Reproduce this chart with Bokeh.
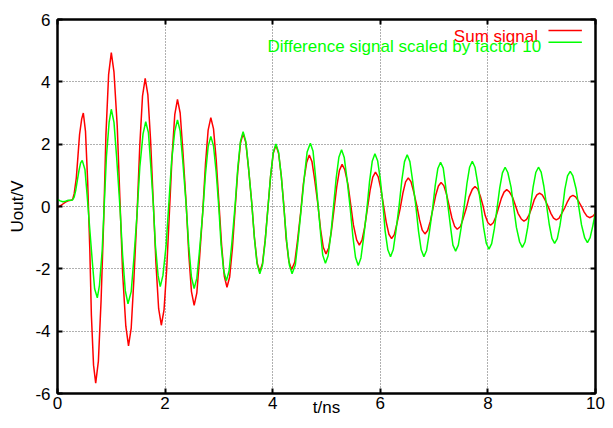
from bokeh.plotting import figure
from bokeh.models import LinearAxis, Label, Arrow, Range1d, FixedTicker
from bokeh.embed import file_html
from bokeh.resources import INLINE

# ---------------- data ----------------
x_ticks = [0, 2, 4, 6, 8, 10]
y_ticks = [-6, -4, -2, 0, 2, 4, 6]
y_tick_labels = {v: str(v) for v in y_ticks}

x_label = "t/ns"
y_label = "Uout/V"
series_names = ["Sum signal", "Difference signal scaled by factor 10"]

t_sum = [0.00, 0.05, 0.10, 0.15, 0.20, 0.25, 0.28,
         0.31, 0.35, 0.38, 0.41, 0.45, 0.48,
         0.52, 0.56, 0.60, 0.63, 0.67, 0.71,
         0.76, 0.81, 0.86, 0.90, 0.95, 1.00,
         1.05, 1.11, 1.16, 1.21, 1.27, 1.32,
         1.37, 1.42, 1.48, 1.53, 1.58, 1.63,
         1.68, 1.73, 1.78, 1.83, 1.88, 1.93,
         1.98, 2.03, 2.08, 2.13, 2.18, 2.23,
         2.28, 2.33, 2.39, 2.44, 2.49, 2.54,
         2.59, 2.64, 2.70, 2.75, 2.80, 2.85,
         2.90, 2.95, 3.00, 3.05, 3.10, 3.15,
         3.20, 3.25, 3.30, 3.35, 3.40, 3.45,
         3.50, 3.55, 3.61, 3.66, 3.71, 3.76,
         3.81, 3.86, 3.91, 3.96, 4.01, 4.06,
         4.11, 4.16, 4.21, 4.25, 4.30, 4.35,
         4.41, 4.46, 4.52, 4.57, 4.63, 4.68,
         4.73, 4.78, 4.84, 4.89, 4.94, 4.99,
         5.04, 5.09, 5.14, 5.19, 5.24, 5.29,
         5.34, 5.40, 5.45, 5.50, 5.56, 5.61,
         5.66, 5.71, 5.76, 5.81, 5.86, 5.91,
         5.96, 6.01, 6.06, 6.11, 6.16, 6.21,
         6.26, 6.31, 6.37, 6.42, 6.47, 6.52,
         6.57, 6.62, 6.68, 6.73, 6.78, 6.83,
         6.88, 6.93, 6.98, 7.03, 7.08, 7.13,
         7.18, 7.23, 7.28, 7.33, 7.38, 7.43,
         7.49, 7.54, 7.60, 7.65, 7.71, 7.76,
         7.81, 7.86, 7.91, 7.95, 8.00, 8.05,
         8.10, 8.15, 8.20, 8.25, 8.30, 8.35,
         8.40, 8.46, 8.51, 8.56, 8.62, 8.67,
         8.72, 8.77, 8.82, 8.86, 8.91, 8.96,
         9.01, 9.06, 9.12, 9.17, 9.22, 9.27,
         9.32, 9.37, 9.43, 9.48, 9.53, 9.58,
         9.63, 9.68, 9.74, 9.79, 9.84, 9.89,
         9.95, 10.00]

v_sum = [-0.03, 0.02, 0.08, 0.14, 0.18, 0.20, 0.22,
         0.41, 0.92, 1.61, 2.31, 2.81, 3.00,
         2.42, 0.83, -1.34, -3.50, -5.09, -5.67,
         -4.96, -3.02, -0.37, 2.29, 4.23, 4.94,
         4.31, 2.59, 0.24, -2.12, -3.84, -4.47,
         -3.90, -2.33, -0.18, 1.97, 3.54, 4.11,
         3.58, 2.13, 0.15, -1.83, -3.28, -3.81,
         -3.32, -2.00, -0.19, 1.63, 2.95, 3.44,
         3.00, 1.79, 0.14, -1.52, -2.73, -3.17,
         -2.77, -1.67, -0.16, 1.35, 2.45, 2.85,
         2.49, 1.49, 0.13, -1.23, -2.23, -2.59,
         -2.26, -1.36, -0.12, 1.12, 2.02, 2.35,
         2.05, 1.24, 0.13, -0.99, -1.80, -2.10,
         -1.83, -1.08, -0.07, 0.95, 1.70, 1.97,
         1.70, 0.97, -0.03, -1.03, -1.76, -2.03,
         -1.78, -1.11, -0.19, 0.73, 1.40, 1.65,
         1.44, 0.86, 0.07, -0.73, -1.31, -1.52,
         -1.33, -0.80, -0.09, 0.63, 1.16, 1.35,
         1.18, 0.70, 0.06, -0.59, -1.07, -1.24,
         -1.08, -0.66, -0.07, 0.52, 0.94, 1.10,
         0.96, 0.57, 0.04, -0.50, -0.89, -1.03,
         -0.90, -0.54, -0.06, 0.43, 0.79, 0.92,
         0.80, 0.47, 0.02, -0.43, -0.76, -0.88,
         -0.77, -0.47, -0.06, 0.36, 0.66, 0.77,
         0.67, 0.40, 0.02, -0.36, -0.63, -0.73,
         -0.64, -0.39, -0.05, 0.30, 0.55, 0.64,
         0.56, 0.33, 0.02, -0.29, -0.52, -0.60,
         -0.52, -0.32, -0.03, 0.26, 0.46, 0.54,
         0.47, 0.29, 0.04, -0.22, -0.40, -0.47,
         -0.41, -0.25, -0.02, 0.21, 0.37, 0.43,
         0.37, 0.22, 0.00, -0.22, -0.37, -0.43,
         -0.38, -0.23, -0.04, 0.16, 0.31, 0.36,
         0.31, 0.18, 0.00, -0.18, -0.31, -0.36,
         -0.31, -0.22]

t_diff = [0.00, 0.05, 0.10, 0.15, 0.20, 0.25, 0.28,
          0.31, 0.34, 0.37, 0.40, 0.43, 0.46,
          0.51, 0.55, 0.60, 0.65, 0.69, 0.74,
          0.78, 0.83, 0.87, 0.91, 0.96, 1.00,
          1.05, 1.10, 1.16, 1.21, 1.26, 1.31,
          1.37, 1.42, 1.48, 1.53, 1.59, 1.64,
          1.69, 1.73, 1.78, 1.82, 1.87, 1.91,
          1.96, 2.02, 2.07, 2.12, 2.18, 2.23,
          2.28, 2.33, 2.39, 2.44, 2.49, 2.54,
          2.59, 2.64, 2.70, 2.75, 2.80, 2.85,
          2.90, 2.95, 3.00, 3.04, 3.09, 3.14,
          3.19, 3.24, 3.30, 3.35, 3.40, 3.45,
          3.50, 3.55, 3.61, 3.66, 3.71, 3.76,
          3.81, 3.86, 3.91, 3.96, 4.01, 4.06,
          4.11, 4.16, 4.21, 4.26, 4.31, 4.36,
          4.42, 4.47, 4.53, 4.59, 4.64, 4.70,
          4.75, 4.79, 4.84, 4.89, 4.93, 4.98,
          5.03, 5.08, 5.13, 5.18, 5.23, 5.28,
          5.33, 5.38, 5.44, 5.49, 5.54, 5.59,
          5.64, 5.69, 5.75, 5.80, 5.85, 5.90,
          5.95, 6.00, 6.05, 6.09, 6.14, 6.19,
          6.24, 6.29, 6.35, 6.40, 6.45, 6.50,
          6.55, 6.60, 6.66, 6.71, 6.76, 6.81,
          6.86, 6.91, 6.97, 7.02, 7.07, 7.12,
          7.17, 7.21, 7.26, 7.31, 7.35, 7.40,
          7.45, 7.50, 7.56, 7.61, 7.66, 7.71,
          7.76, 7.81, 7.87, 7.92, 7.97, 8.02,
          8.07, 8.12, 8.17, 8.22, 8.27, 8.32,
          8.37, 8.43, 8.48, 8.53, 8.59, 8.64,
          8.69, 8.74, 8.79, 8.84, 8.89, 8.94,
          8.99, 9.04, 9.09, 9.14, 9.19, 9.24,
          9.29, 9.34, 9.39, 9.43, 9.48, 9.53,
          9.58, 9.64, 9.69, 9.74, 9.80, 9.85,
          9.90, 9.95, 10.00]

v_diff = [0.23, 0.18, 0.15, 0.17, 0.20, 0.20, 0.21,
          0.30, 0.53, 0.85, 1.16, 1.40, 1.48,
          1.19, 0.38, -0.73, -1.83, -2.64, -2.93,
          -2.53, -1.42, 0.10, 1.61, 2.71, 3.12,
          2.70, 1.56, 0.00, -1.56, -2.70, -3.12,
          -2.73, -1.66, -0.20, 1.26, 2.33, 2.72,
          2.37, 1.40, 0.08, -1.25, -2.22, -2.57,
          -2.21, -1.23, 0.11, 1.44, 2.42, 2.78,
          2.42, 1.43, 0.08, -1.28, -2.27, -2.63,
          -2.30, -1.41, -0.19, 1.03, 1.92, 2.25,
          1.94, 1.09, -0.07, -1.22, -2.07, -2.38,
          -2.06, -1.19, 0.01, 1.21, 2.08, 2.40,
          2.09, 1.26, 0.12, -1.02, -1.85, -2.16,
          -1.88, -1.12, -0.08, 0.97, 1.73, 2.01,
          1.73, 0.97, -0.08, -1.12, -1.88, -2.16,
          -1.88, -1.11, -0.07, 0.98, 1.75, 2.03,
          1.77, 1.07, 0.11, -0.86, -1.56, -1.82,
          -1.58, -0.91, 0.00, 0.91, 1.58, 1.82,
          1.57, 0.89, -0.04, -0.96, -1.64, -1.89,
          -1.65, -1.00, -0.10, 0.80, 1.45, 1.69,
          1.47, 0.87, 0.04, -0.79, -1.39, -1.61,
          -1.39, -0.79, 0.03, 0.84, 1.44, 1.66,
          1.44, 0.84, 0.03, -0.79, -1.39, -1.61,
          -1.41, -0.85, -0.10, 0.66, 1.22, 1.42,
          1.23, 0.71, -0.01, -0.72, -1.24, -1.43,
          -1.24, -0.71, 0.01, 0.73, 1.26, 1.45,
          1.26, 0.75, 0.04, -0.67, -1.18, -1.37,
          -1.19, -0.71, -0.06, 0.60, 1.08, 1.26,
          1.09, 0.62, -0.03, -0.67, -1.14, -1.31,
          -1.14, -0.67, -0.03, 0.62, 1.09, 1.26,
          1.10, 0.65, 0.04, -0.57, -1.02, -1.18,
          -1.03, -0.60, -0.03, 0.55, 0.98, 1.13,
          0.98, 0.56, -0.02, -0.59, -1.01, -1.16,
          -1.00, -0.62, -0.18]

# ---------------- styling ----------------
FONT = "Liberation Sans"
FS = "17px"
RED = "#ff0000"
GREEN = "#00ff00"

p = figure(width=605, height=420,
           x_range=Range1d(0, 10), y_range=Range1d(-6, 6),
           output_backend="svg", toolbar_location=None,
           min_border_left=57, min_border_right=10,
           min_border_top=19, min_border_bottom=27,
           background_fill_color="white", border_fill_color="white",
           outline_line_color="black", outline_line_width=2)

for ax, ticks in ((p.xaxis, x_ticks), (p.yaxis, y_ticks)):
    ax.ticker = FixedTicker(ticks=ticks)
    ax.axis_line_width = 2
    ax.axis_line_color = "black"
    ax.major_tick_in = 5
    ax.major_tick_out = 0
    ax.major_tick_line_width = 2
    ax.minor_tick_line_color = None
    ax.major_label_text_font = FONT
    ax.major_label_text_font_size = FS
    ax.major_label_text_color = "black"
    ax.axis_label_text_font = FONT
    ax.axis_label_text_font_size = FS
    ax.axis_label_text_font_style = "normal"
    ax.axis_label_text_color = "black"

p.xaxis.major_label_standoff = 3
p.yaxis.major_label_standoff = 7
p.yaxis.major_label_overrides = y_tick_labels
p.xaxis.axis_label = x_label
p.xaxis.axis_label_standoff = -14
p.yaxis.axis_label = y_label
p.yaxis.axis_label_standoff = 5

# mirrored ticks on top and right (no labels)
for loc, ticks in (("above", x_ticks), ("right", y_ticks)):
    mirror = LinearAxis(ticker=FixedTicker(ticks=ticks),
                        major_label_text_font_size="1px",
                        major_label_text_color=None,
                        major_label_standoff=0, major_tick_in=5, major_tick_out=0,
                        major_tick_line_width=2, minor_tick_line_color=None,
                        axis_line_width=2)
    p.add_layout(mirror, loc)

for g in (p.xgrid, p.ygrid):
    g.grid_line_color = "#606060"
    g.grid_line_dash = "1 2"
    g.grid_line_width = 1

# data lines (sum first, difference on top, as in the reference)
p.line(t_sum, v_sum, line_color=RED, line_width=1.5)
p.line(t_diff, v_diff, line_color=GREEN, line_width=1.5)

# key (gnuplot style: text left, sample right)
p.add_layout(Label(x=8.93, y=5.466, text=series_names[0], text_align="right",
                   text_baseline="alphabetic", text_font=FONT,
                   text_font_size=FS, text_color=RED))
p.add_layout(Label(x=8.99, y=5.12, text=series_names[1], text_align="right",
                   text_baseline="alphabetic", text_font=FONT,
                   text_font_size=FS, text_color=GREEN))
p.add_layout(Arrow(end=None, x_start=9.126, y_start=5.65, x_end=9.747, y_end=5.65,
                   line_color=RED, line_width=1.5))
p.add_layout(Arrow(end=None, x_start=9.126, y_start=5.27, x_end=9.747, y_end=5.27,
                   line_color=GREEN, line_width=1.5))

open("out.html", "w").write(file_html(p, INLINE))
